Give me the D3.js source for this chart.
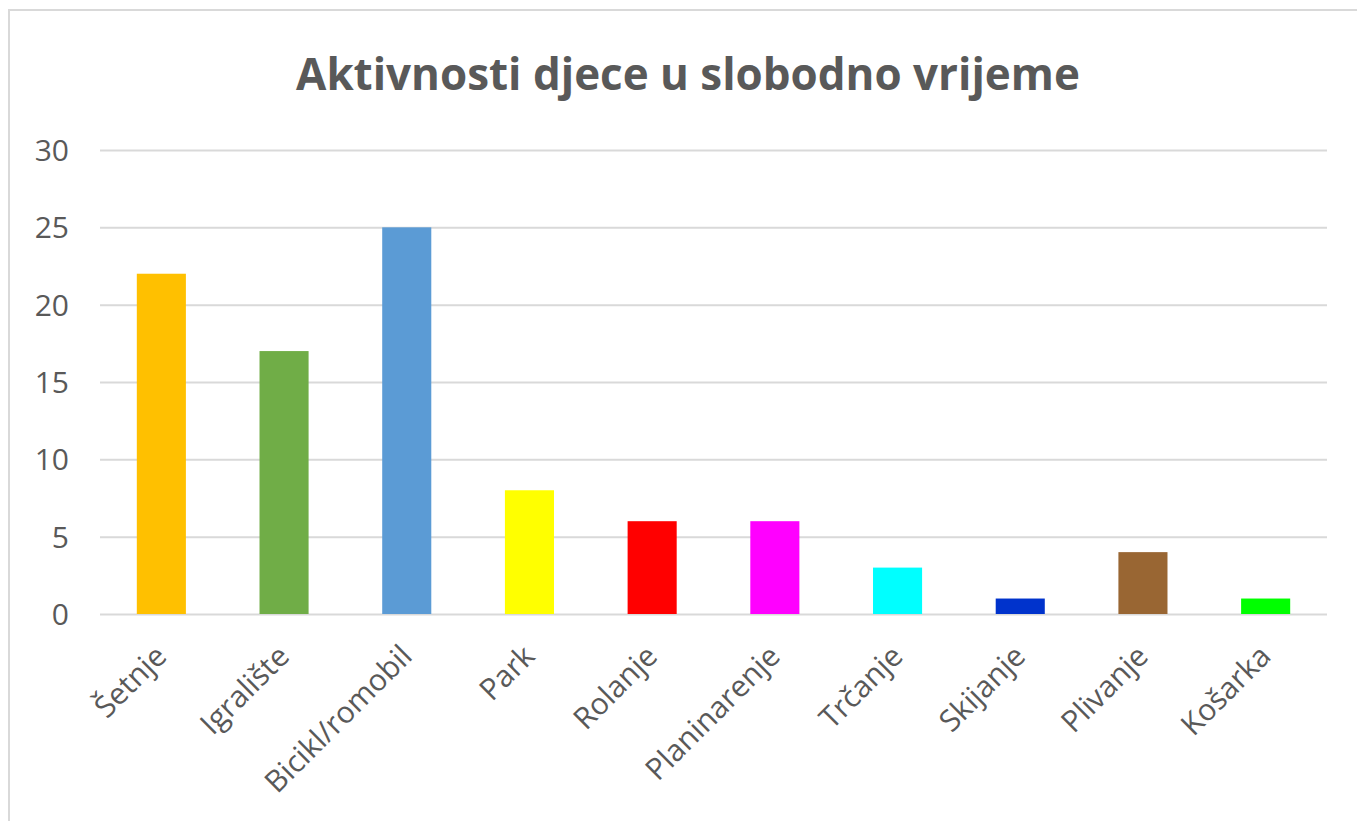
<!DOCTYPE html>
<html>
<head>
<meta charset="utf-8">
<script src="https://cdn.jsdelivr.net/npm/d3@7/dist/d3.min.js"></script>
<style>
html,body{margin:0;padding:0;background:#fff;overflow:hidden;}
svg{display:block;}
text{font-family:"Open Sans","Noto Sans",sans-serif;fill:#595959;}
</style>
</head>
<body>
<svg id="chart" width="1357" height="821"></svg>
<script>
const title = "Aktivnosti djece u slobodno vrijeme";
const categories = ["Šetnje","Igralište","Bicikl/romobil","Park","Rolanje","Planinarenje","Trčanje","Skijanje","Plivanje","Košarka"];
const values = [22,17,25,8,6,6,3,1,4,1];
const colors = ["#FFC000","#70AD47","#5B9BD5","#FFFF00","#FF0000","#FF00FF","#00FFFF","#0033CC","#996633","#00FF00"];
const yTicks = [0,5,10,15,20,25,30];

const svg = d3.select("#chart");
const plotLeft = 100, plotRight = 1327, plotTop = 150, plotBottom = 614;

// outer chart border
svg.append("rect").attr("x",9).attr("y",10).attr("width",1400).attr("height",900)
  .attr("fill","#fff").attr("stroke","#d9d9d9").attr("stroke-width",2);

const x = d3.scaleBand().domain(categories).range([plotLeft,plotRight]).paddingInner(0.6).paddingOuter(0.3);
const y = d3.scaleLinear().domain([0,30]).range([plotBottom,plotTop]);

// gridlines
const grid = svg.append("g").attr("transform",`translate(${plotLeft},0)`)
  .call(d3.axisLeft(y).tickValues(yTicks).tickSize(-(plotRight-plotLeft)).tickFormat(""));
grid.select(".domain").remove();
grid.selectAll(".tick line").attr("stroke","#d9d9d9").attr("stroke-width",2);

// y labels
const ya = svg.append("g").attr("transform",`translate(69,0)`)
  .call(d3.axisLeft(y).tickValues(yTicks).tickSize(0).tickPadding(0));
ya.select(".domain").remove();
ya.selectAll(".tick text").attr("font-size",30).attr("fill","#595959")
  .attr("font-family","'Open Sans',sans-serif").attr("dy","0.35em");

// bars
svg.append("g").selectAll("rect").data(categories).join("rect")
  .attr("x",d=>x(d)).attr("width",x.bandwidth())
  .attr("y",(d,i)=>y(values[i])).attr("height",(d,i)=>y(0)-y(values[i]))
  .attr("fill",(d,i)=>colors[i]);

// x labels
const xa = svg.append("g").attr("transform",`translate(0,${plotBottom})`)
  .call(d3.axisBottom(x).tickSize(0).tickPadding(0));
xa.select(".domain").remove();
xa.selectAll(".tick text")
  .attr("font-size",30).attr("fill","#595959").attr("font-family","'Open Sans',sans-serif")
  .attr("text-anchor","end").attr("y",0).attr("dy",0)
  .attr("transform","translate(7,44) rotate(-45)");

// title
const t = svg.append("text").attr("x",688).attr("y",90).attr("text-anchor","middle")
  .attr("font-weight","bold").attr("font-size",40).attr("fill","#595959").text(title);
const w = t.node().getComputedTextLength();
t.attr("font-size", 40*784/w);
</script>
</body>
</html>
